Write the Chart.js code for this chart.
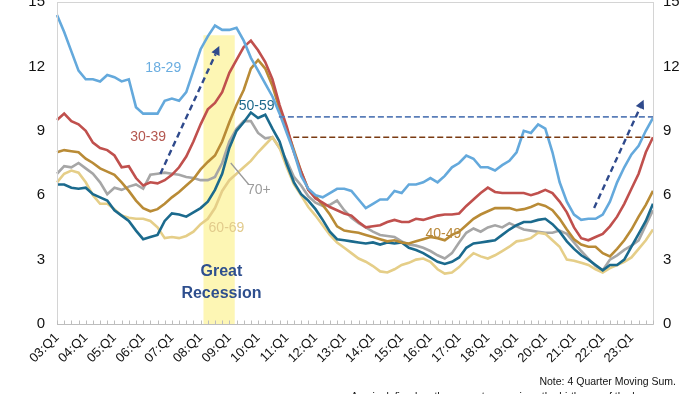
<!DOCTYPE html>
<html>
<head>
<meta charset="utf-8">
<script src="https://cdn.jsdelivr.net/npm/chart.js@4/dist/chart.umd.min.js"></script>
<style>
  html, body { margin: 0; padding: 0; background: #fff; }
  #wrap { width: 700px; height: 394px; position: relative; }
</style>
</head>
<body>
<div id="wrap"><canvas id="c" width="700" height="394"></canvas></div>
<script>
// ---- categories: quarterly 03:Q1 .. 23:Q4
const years = ['03','04','05','06','07','08','09','10','11','12','13','14','15','16','17','18','19','20','21','22','23'];
const quarters = ['Q1','Q2','Q3','Q4'];
const categories = [];
years.forEach(y => quarters.forEach(q => categories.push(y + ':' + q)));

// ---- series values (percent, 4 quarter moving sum)
const age18_29 = [14.4,13.6,12.7,11.8,11.4,11.4,11.3,11.6,11.5,11.3,11.4,10.1,9.8,9.8,9.8,10.4,10.5,10.4,10.8,11.8,12.8,13.4,13.9,13.7,13.7,13.8,13.2,12.4,11.8,11.2,10.6,9.8,8.9,8.0,6.9,6.3,6.0,5.9,6.1,6.3,6.3,6.2,5.8,5.4,5.6,5.8,5.8,6.2,6.1,6.5,6.5,6.6,6.8,6.6,6.9,7.3,7.5,7.85,7.7,7.3,7.3,7.15,7.4,7.6,8.0,9.0,8.9,9.3,9.1,8.0,6.6,5.7,5.1,4.85,4.9,4.9,5.1,5.7,6.6,7.3,7.9,8.3,9.0,9.6];
const age30_39 = [9.5,9.8,9.45,9.3,9.0,8.45,8.2,8.1,7.85,7.3,7.35,6.8,6.45,6.6,6.55,6.7,6.95,7.3,7.8,8.5,9.3,10.0,10.3,10.8,11.7,12.3,12.9,13.2,12.75,12.2,11.4,10.2,9.2,8.0,7.1,6.25,5.85,5.65,5.45,5.3,5.15,5.05,4.75,4.5,4.55,4.6,4.75,4.85,4.75,4.75,4.9,4.85,4.95,5.05,5.1,5.1,5.15,5.5,5.8,6.1,6.35,6.15,6.1,6.1,6.1,6.1,6.0,6.1,6.25,6.1,5.7,5.2,4.5,4.0,3.9,4.05,4.2,4.55,5.0,5.6,6.3,7.0,8.0,8.7];
const age40_49 = [8.0,8.1,8.05,8.0,7.7,7.5,7.25,7.1,6.95,6.6,6.2,5.75,5.4,5.25,5.35,5.6,5.9,6.15,6.45,6.75,7.2,7.55,7.85,8.5,9.4,10.2,10.9,11.9,12.3,11.9,11.1,10.0,9.1,8.1,7.1,6.25,5.95,5.55,5.1,4.55,4.35,4.3,4.25,4.15,4.05,3.95,3.85,3.9,3.8,3.75,3.85,3.95,4.05,4.0,3.9,4.15,4.3,4.6,4.9,5.1,5.25,5.4,5.4,5.4,5.3,5.35,5.45,5.6,5.5,5.3,4.9,4.4,3.95,3.7,3.6,3.6,3.3,3.15,3.5,3.9,4.4,5.0,5.55,6.2];
const age50_59 = [6.5,6.5,6.35,6.3,6.35,6.05,5.9,5.75,5.3,5.05,4.8,4.35,3.95,4.05,4.15,4.8,5.15,5.1,5.0,5.2,5.4,5.7,6.25,7.0,8.2,9.0,9.4,9.85,9.6,9.75,9.1,8.5,7.45,6.6,6.05,5.75,5.35,4.85,4.3,3.95,3.9,3.85,3.8,3.75,3.8,3.7,3.8,3.75,3.8,3.55,3.45,3.3,3.1,2.9,2.8,2.9,3.1,3.55,3.75,3.8,3.85,3.9,4.15,4.4,4.6,4.75,4.75,4.85,4.9,4.65,4.3,3.85,3.5,3.2,3.0,2.75,2.5,2.75,2.75,3.0,3.6,4.2,4.8,5.6];
const age60_69 = [6.6,7.0,7.15,7.05,6.6,6.0,5.6,5.6,5.35,5.05,4.95,4.9,4.9,4.8,4.5,4.0,4.05,4.0,4.1,4.3,4.65,4.9,5.4,6.2,6.7,7.0,7.3,7.6,8.0,8.35,8.7,8.2,7.3,6.5,6.0,5.45,5.05,4.6,4.15,3.8,3.55,3.3,3.05,2.9,2.7,2.45,2.4,2.55,2.75,2.85,3.0,3.05,2.9,2.55,2.35,2.4,2.65,3.0,3.3,3.15,3.05,3.2,3.4,3.6,3.85,3.9,4.0,4.25,4.2,3.9,3.6,3.0,2.95,2.85,2.75,2.55,2.4,2.6,2.75,2.9,3.1,3.5,3.9,4.4];
const age70plus = [7.0,7.35,7.3,7.5,7.25,7.0,6.6,6.05,6.35,6.25,6.4,6.5,6.3,6.95,7.0,7.05,7.0,6.95,6.85,6.8,6.7,6.7,6.85,7.5,8.5,9.1,9.45,9.45,8.9,8.65,8.7,8.2,7.6,6.85,6.45,5.95,5.65,5.5,5.55,5.75,5.3,4.95,4.7,4.5,4.3,4.15,4.1,4.05,3.85,3.7,3.65,3.55,3.4,3.2,3.05,3.3,3.8,4.25,4.45,4.3,4.5,4.6,4.5,4.7,4.55,4.4,4.35,4.3,4.25,4.25,4.35,4.2,3.8,3.4,3.05,2.7,2.5,3.0,3.2,3.45,3.65,3.9,4.6,5.3];

const yTicks = [0, 3, 6, 9, 12, 15];
const seriesNames = ['18-29', '30-39', '40-49', '50-59', '60-69', '70+'];

const colors = {
  '18-29': '#64A9DC',
  '30-39': '#C0504D',
  '40-49': '#B98B36',
  '50-59': '#1B6A8D',
  '60-69': '#E5CE88',
  '70+':   '#A6A6A6'
};

const seriesData = [age18_29, age30_39, age40_49, age50_59, age60_69, age70plus];

const datasets = seriesNames.map((n, i) => ({
  label: n,
  data: seriesData[i],
  borderColor: colors[n],
  backgroundColor: colors[n],
  borderWidth: 2.6,
  pointRadius: 0,
  tension: 0,
  fill: false
}));

const FONT = '"Liberation Sans", Arial, sans-serif';

const annot = {
  id: 'annot',
  beforeDatasetsDraw(chart) {
    const { ctx } = chart;
    const x = chart.scales.x, y = chart.scales.y;
    const x0 = x.getPixelForValue(20.4), x1 = x.getPixelForValue(24.75);
    const yt = y.getPixelForValue(13.45), yb = y.getPixelForValue(0);
    ctx.save();
    ctx.fillStyle = '#FDF6B4';
    ctx.fillRect(x0, yt, x1 - x0, yb - yt);
    ctx.restore();
  },
  afterDatasetsDraw(chart) {
    const { ctx } = chart;
    const x = chart.scales.x, y = chart.scales.y;
    const P = (i, v) => [x.getPixelForValue(i), y.getPixelForValue(v)];
    ctx.save();
    const hl = (i0, i1, v, col, w, dash) => {
      const a = P(i0, v), b = P(i1, v);
      ctx.beginPath();
      ctx.setLineDash(dash);
      ctx.strokeStyle = col; ctx.lineWidth = w;
      ctx.moveTo(a[0], a[1]); ctx.lineTo(b[0], b[1]); ctx.stroke();
    };
    hl(30.9, 83, 9.65, '#5A7DB8', 1.6, [6, 3]);
    hl(32.9, 83, 8.7, '#7A3A12', 1.6, [6, 3]);
    const arrow = (i0, v0, i1, v1) => {
      const a = P(i0, v0), b = P(i1, v1);
      const ang = Math.atan2(b[1] - a[1], b[0] - a[0]);
      const hlen = 9;
      const bx = b[0] - Math.cos(ang) * hlen, by = b[1] - Math.sin(ang) * hlen;
      ctx.beginPath();
      ctx.setLineDash([6, 4]);
      ctx.strokeStyle = '#2F4A8C'; ctx.lineWidth = 2.4;
      ctx.moveTo(a[0], a[1]); ctx.lineTo(bx, by); ctx.stroke();
      ctx.setLineDash([]);
      ctx.beginPath();
      ctx.fillStyle = '#2F4A8C';
      ctx.moveTo(b[0], b[1]);
      ctx.lineTo(bx + Math.cos(ang + Math.PI / 2) * 4.5, by + Math.sin(ang + Math.PI / 2) * 4.5);
      ctx.lineTo(bx - Math.cos(ang + Math.PI / 2) * 4.5, by - Math.sin(ang + Math.PI / 2) * 4.5);
      ctx.closePath(); ctx.fill();
    };
    arrow(14.4, 7.0, 22.6, 12.95);
    arrow(74.8, 5.4, 81.7, 10.45);
    ctx.setLineDash([]);
    ctx.beginPath();
    ctx.strokeStyle = '#9A9A9A'; ctx.lineWidth = 1.3;
    let a = P(24.2, 7.5), b = P(26.7, 6.5);
    ctx.moveTo(a[0], a[1]); ctx.lineTo(b[0], b[1]); ctx.stroke();
    ctx.textAlign = 'center'; ctx.textBaseline = 'middle';
    ctx.font = '14px ' + FONT;
    const lab = (t, i, v, col) => { const p = P(i, v); ctx.fillStyle = col; ctx.fillText(t, p[0], p[1]); };
    lab('18-29', 14.8, 11.9, '#6AADE0');
    lab('30-39', 12.7, 8.7, '#B4574F');
    lab('50-59', 27.8, 10.15, '#1E6A8C');
    lab('70+', 28.1, 6.25, '#9C9C9C');
    lab('60-69', 23.6, 4.45, '#E2CB8C');
    lab('40-49', 53.8, 4.2, '#B8893A');
    ctx.font = 'bold 16px ' + FONT;
    ctx.fillStyle = '#2E4F8E';
    let g = P(22.9, 2.45);
    ctx.fillText('Great', g[0], g[1]);
    g = P(22.9, 1.43);
    ctx.fillText('Recession', g[0], g[1]);
    ctx.restore();
  },
  afterDraw(chart) {
    const { ctx, chartArea: ca } = chart;
    const x = chart.scales.x;
    ctx.save();
    ctx.strokeStyle = '#D4D4D4'; ctx.lineWidth = 1;
    ctx.strokeRect(Math.round(ca.left) + 0.5, Math.round(ca.top) + 0.5, Math.round(ca.right - ca.left), Math.round(ca.bottom - ca.top));
    ctx.strokeStyle = '#BDBDBD';
    ctx.beginPath();
    const yb = Math.round(ca.bottom) + 0.5;
    ctx.moveTo(ca.left, yb); ctx.lineTo(ca.right, yb);
    for (let i = 0; i < categories.length; i++) {
      const px = Math.round(x.getPixelForValue(i)) + 0.5;
      ctx.moveTo(px, yb); ctx.lineTo(px, yb - 4);
    }
    ctx.stroke();
    ctx.fillStyle = '#111';
    ctx.textAlign = 'right'; ctx.textBaseline = 'alphabetic';
    ctx.font = '10.5px ' + FONT;
    ctx.fillText('Note: 4 Quarter Moving Sum.', 676, 385);
    ctx.fillText('Age is defined as the current year minus the birthyear of the borrower.', 676, 400);
    ctx.restore();
  }
};

new Chart(document.getElementById('c'), {
  type: 'line',
  data: { labels: categories, datasets },
  options: {
    responsive: false,
    animation: false,
    devicePixelRatio: 1,
    layout: { padding: { top: 2, left: 0, right: 0, bottom: 0 } },
    plugins: { legend: { display: false }, tooltip: { enabled: false } },
    scales: {
      x: {
        type: 'category',
        offset: false,
        grid: { display: false, drawTicks: false },
        border: { display: false },
        ticks: {
          autoSkip: false,
          minRotation: 45, maxRotation: 45,
          padding: 6,
          color: '#111',
          font: { size: 13, family: FONT },
          callback(value, index) { return index % 4 === 0 ? categories[index] : ''; }
        },
        afterFit(s) { s.height = 70; s.paddingLeft = 0; s.paddingRight = 0; }
      },
      y: {
        position: 'left',
        min: 0, max: 15,
        afterBuildTicks(s) { s.ticks = yTicks.map(v => ({ value: v })); },
        grid: { display: false, drawTicks: false },
        border: { display: false },
        ticks: { padding: 12, color: '#111', font: { size: 15, family: FONT } },
        afterFit(s) { s.width = 57; s.paddingTop = 0; s.paddingBottom = 0; }
      },
      y2: {
        position: 'right',
        min: 0, max: 15,
        afterBuildTicks(s) { s.ticks = yTicks.map(v => ({ value: v })); },
        grid: { display: false, drawTicks: false },
        border: { display: false },
        ticks: { padding: 10, color: '#111', font: { size: 15, family: FONT } },
        afterFit(s) { s.width = 47; s.paddingTop = 0; s.paddingBottom = 0; }
      }
    }
  },
  plugins: [annot]
});
</script>
</body>
</html>
